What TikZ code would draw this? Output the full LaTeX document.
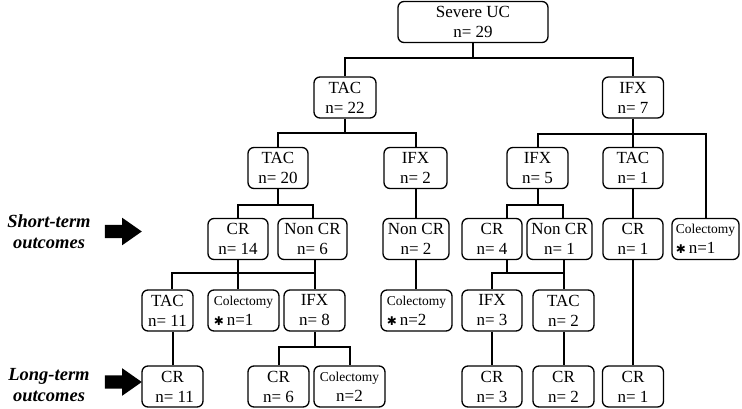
\documentclass[tikz,border=0pt]{standalone}
\usepackage{fontspec}
\setmainfont{Liberation Serif}
\newfontfamily\symbolfont{DejaVu Sans}
\usetikzlibrary{shapes.arrows}

\newcommand{\colectomy}{{\fontsize{13.5}{16}\selectfont Colectomy}}
\newcommand{\notestar}{{\symbolfont\fontsize{12}{20}\selectfont ✱}\,}

\begin{document}
\begin{tikzpicture}[x=1pt,y=-1pt,
    box/.style={draw,line width=1.3pt,rounded corners=6pt,align=center,
        minimum height=41pt,inner sep=1pt,font=\fontsize{17}{20}\selectfont},
    link/.style={line width=2pt},
    bigarrow/.style={single arrow,fill=black,inner sep=6.5pt,minimum height=37pt,
        minimum width=27pt,single arrow head extend=7pt,single arrow tip angle=70},
    outcome/.style={align=center,font=\fontsize{18.5}{21}\selectfont\bfseries\itshape}]
    \useasboundingbox (0,0) rectangle (742,409);
    % boxes
    \node[box,minimum width=150pt] (uc) at (473,22) {Severe UC\\n= 29};
    \node[box,minimum width=62pt] (tac22) at (345,97.5) {TAC\\n= 22};
    \node[box,minimum width=61pt] (ifx7) at (633,97.5) {IFX\\n= 7};
    \node[box,minimum width=60pt] (tac20) at (278,168) {TAC\\n= 20};
    \node[box,minimum width=63pt] (ifx2) at (415.5,168) {IFX\\n= 2};
    \node[box,minimum width=61pt] (ifx5) at (537.5,168) {IFX\\n= 5};
    \node[box,minimum width=60pt] (tac1) at (633,168) {TAC\\n= 1};
    \node[box,minimum width=60pt] (cr14) at (238,239) {CR\\n= 14};
    \node[box,minimum width=69pt] (noncr6) at (312.5,239) {Non CR\\n= 6};
    \node[box,minimum width=66pt] (noncr2) at (416,239) {Non CR\\n= 2};
    \node[box,minimum width=60pt] (cr4) at (492,239) {CR\\n= 4};
    \node[box,minimum width=65pt] (noncr1) at (559.5,239) {Non CR\\n= 1};
    \node[box,minimum width=60pt] (cr1) at (633,239) {CR\\n= 1};
    \node[box,minimum width=67pt,align=left] (col1b) at (705.5,239) {\colectomy\\\notestar n=1};
    \node[box,minimum width=51pt] (tac11) at (167.5,310.5) {TAC\\n= 11};
    \node[box,minimum width=71pt,align=left] (col1a) at (243.5,310.5) {\colectomy\\\notestar n=1};
    \node[box,minimum width=61pt] (ifx8) at (314.5,310.5) {IFX\\n= 8};
    \node[box,minimum width=71pt,align=left] (col2a) at (416.5,310.5) {\colectomy\\\notestar n=2};
    \node[box,minimum width=60pt] (ifx3) at (492,310.5) {IFX\\n= 3};
    \node[box,minimum width=61pt] (tac2) at (563.5,310.5) {TAC\\n= 2};
    \node[box,minimum width=61pt] (cr11) at (172.5,386.5) {CR\\\ n= 11};
    \node[box,minimum width=61pt] (cr6) at (278.5,386.5) {CR\\n= 6};
    \node[box,minimum width=71pt] (col2b) at (349.5,386.5) {\colectomy\\n=2};
    \node[box,minimum width=60pt] (cr3) at (492,386.5) {CR\\n= 3};
    \node[box,minimum width=61pt] (cr2) at (563.5,386.5) {CR\\n= 2};
    \node[box,minimum width=61pt] (cr1b) at (633,386.5) {CR\\n= 1};
    % links
    \draw[link] (uc.south) -- ++(0,14.5) coordinate (b0);
    \draw[link] (tac22.north) |- (b0) -| (ifx7.north);
    \draw[link] (tac22.south) -- ++(0,14) coordinate (b1);
    \draw[link] (tac20.north) |- (b1) -| (ifx2.north);
    \draw[link] (ifx7.south) -- ++(0,15) coordinate (b2);
    \draw[link] (ifx5.north) |- (b2) -| (col1b.north);
    \draw[link] (b2) -- (tac1.north);
    \draw[link] (tac20.south) -- ++(0,16) coordinate (b3);
    \draw[link] (cr14.north) |- (b3) -| (noncr6.north);
    \draw[link] (ifx2.south) -- (ifx2.south |- noncr2.north);
    \draw[link] (ifx5.south) -- ++(0,16) coordinate (b5);
    \draw[link] ([xshift=15pt]cr4.north) |- (b5) -| ([xshift=3.5pt]noncr1.north);
    \draw[link] (tac1.south) -- (cr1.north);
    \draw[link] (cr14.south) -- (cr14.south |- col1a.north);
    \draw[link] (ifx8.north |- noncr6.south) -- (ifx8.north);
    \draw[link] ([xshift=4.5pt]tac11.north) |- ([yshift=16pt]ifx8.north);
    \draw[link] (noncr2.south) -- (noncr2.south |- col2a.north);
    \draw[link] ([xshift=15pt]cr4.south) |- ([yshift=16pt]tac2.north);
    \draw[link] (ifx3.north) |- ([yshift=16pt]tac2.north);
    \draw[link] (tac2.north |- noncr1.south) -- (tac2.north);
    \draw[link] (cr11.north) -- (cr11.north |- tac11.south);
    \draw[link] (ifx8.south) -- ++(0,15) coordinate (b8);
    \draw[link] (cr6.north) |- (b8) -| (col2b.north);
    \draw[link] (ifx3.south) -- (cr3.north);
    \draw[link] (tac2.south) -- (cr2.north);
    \draw[link] (cr1.south) -- (cr1b.north);
    % outcome labels
    \node[outcome] (short) at (49,232) {Short-term\\outcomes};
    \node[bigarrow] (sarrow) at (118.5,231.5) {};
    \node[outcome] (long) at (49,385) {Long-term\\outcomes};
    \node[bigarrow] (larrow) at (118.5,382) {};
\end{tikzpicture}
\end{document}
